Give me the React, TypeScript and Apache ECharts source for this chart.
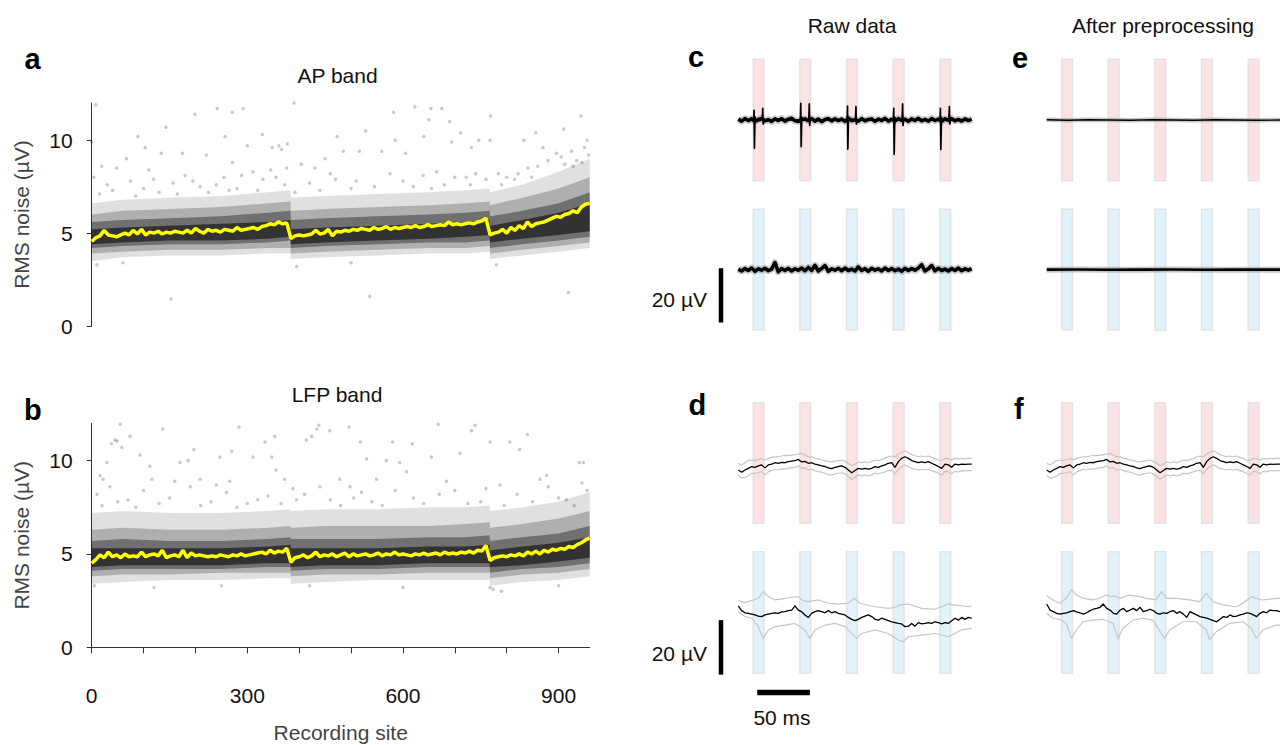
import React, { useEffect, useRef } from "react";
import * as echarts from "echarts";

const FONT = "'Liberation Sans', Arial, Helvetica, sans-serif";

// ---------- Panels a / b : RMS noise per recording site ----------
const SITE_MAX = 960;
const MEDIAN_STEP = 8; // sites between successive median samples
const X_TICK_SITES = [0, 100, 200, 300, 400, 500, 600, 700, 800, 900];
const X_LABEL_SITES = [0, 300, 600, 900];
const Y_TICKS = [0, 5, 10];

// yellow median line, AP band (sites 0, 8, ... 960)
const A_MEDIAN = [
  4.55, 4.75, 4.85, 5.15, 4.9, 4.85, 4.8, 4.9, 5.0, 4.9, 5.15, 4.95, 5.2, 4.9, 5.05, 5.0,
  5.1, 4.95, 5.05, 5.0, 5.1, 5.05, 5.0, 5.15, 5.0, 5.25, 5.1, 5.0, 5.2, 5.1, 5.15, 5.05,
  5.2, 5.15, 5.1, 5.3, 5.15, 5.2, 5.25, 5.3, 5.2, 5.35, 5.4, 5.5, 5.45, 5.6, 5.5, 5.55,
  4.7, 4.85, 4.9, 4.85, 4.9, 4.95, 5.15, 4.95, 5.0, 5.2, 4.85, 5.1, 5.05, 5.15, 5.1, 5.2,
  5.15, 5.25, 5.2, 5.15, 5.3, 5.2, 5.25, 5.35, 5.2, 5.3, 5.25, 5.3, 5.35, 5.3, 5.4, 5.3,
  5.35, 5.45, 5.35, 5.4, 5.45, 5.4, 5.6, 5.45, 5.5, 5.45, 5.5, 5.55, 5.5, 5.6, 5.65, 5.8,
  4.9, 5.0, 5.05, 5.2, 5.0, 5.3, 5.15, 5.4, 5.25, 5.6, 5.35, 5.5, 5.55, 5.6, 5.7, 5.8,
  5.9, 5.85, 6.0, 6.05, 6.2, 6.1, 6.4, 6.55, 6.6,
];
// yellow median line, LFP band
const B_MEDIAN = [
  4.5, 4.7, 4.95, 4.8, 5.1, 4.85, 4.95, 4.8, 5.0, 4.85, 4.9, 4.85, 5.1, 4.85, 4.95, 5.0,
  4.9, 5.2, 4.8, 4.9, 4.95, 4.85, 5.2, 4.8, 5.05, 4.9, 4.95, 4.9, 4.85, 4.9, 4.85, 4.95,
  4.9, 4.85, 4.95, 4.9, 5.0, 4.9, 4.95, 5.0, 5.05, 5.1, 5.0, 5.2, 5.05, 5.15, 5.1, 5.3,
  4.55, 4.8, 4.85, 4.95, 4.8, 4.9, 5.1, 4.85, 4.95, 4.9, 5.0, 4.85, 4.95, 5.05, 4.85, 5.0,
  4.9, 4.95, 5.0, 4.9, 4.95, 5.05, 4.9, 5.0, 4.95, 5.1, 4.95, 5.0, 4.95, 4.9, 5.0, 4.95,
  5.05, 4.95, 5.0, 5.05, 4.95, 5.1, 5.0, 5.05, 5.0, 5.1, 5.05, 5.15, 5.05, 5.2, 5.15, 5.45,
  4.65, 4.8, 4.85, 4.9, 4.85, 4.95, 4.9, 5.0, 4.9, 5.1, 5.0, 5.15, 5.0, 5.2, 5.1, 5.25,
  5.2, 5.3, 5.25, 5.4, 5.35, 5.5, 5.6, 5.75, 5.85,
];

// envelope of the dense point cloud (sites at which the envelopes are read)
const BAND_SITES = [0, 60, 150, 250, 340, 383, 384, 450, 550, 650, 720, 767, 768, 830, 900, 960];
const A_OUT_LO = [3.5, 3.7, 3.8, 3.8, 3.9, 3.9, 3.6, 3.7, 3.8, 3.9, 3.9, 4.0, 3.6, 3.8, 4.0, 4.2];
const A_OUT_HI = [6.6, 6.8, 6.9, 7.0, 7.2, 7.3, 6.9, 7.0, 7.1, 7.2, 7.3, 7.4, 7.2, 7.6, 8.3, 9.0];
const A_MID_LO = [3.9, 4.0, 4.1, 4.1, 4.2, 4.2, 3.9, 4.0, 4.1, 4.2, 4.2, 4.3, 3.9, 4.1, 4.3, 4.5];
const A_MID_HI = [6.0, 6.2, 6.3, 6.4, 6.6, 6.7, 6.2, 6.3, 6.4, 6.5, 6.6, 6.7, 6.5, 6.9, 7.4, 8.0];
const A_IN_LO = [4.2, 4.3, 4.4, 4.4, 4.5, 4.6, 4.2, 4.3, 4.4, 4.5, 4.5, 4.6, 4.2, 4.4, 4.6, 4.8];
const A_IN_HI = [5.6, 5.7, 5.8, 5.9, 6.1, 6.2, 5.7, 5.8, 5.9, 6.0, 6.1, 6.2, 5.9, 6.2, 6.6, 7.2];
const A_CORE_LO = [4.4, 4.5, 4.6, 4.6, 4.7, 4.8, 4.4, 4.5, 4.6, 4.7, 4.8, 4.9, 4.5, 4.7, 4.9, 5.1];
const A_CORE_HI = [5.2, 5.3, 5.4, 5.5, 5.6, 5.7, 5.2, 5.3, 5.4, 5.5, 5.6, 5.7, 5.4, 5.7, 6.1, 6.6];

const B_OUT_LO = [3.4, 3.5, 3.6, 3.6, 3.7, 3.7, 3.4, 3.5, 3.6, 3.6, 3.6, 3.6, 3.3, 3.5, 3.6, 3.8];
const B_OUT_HI = [7.2, 7.3, 7.2, 7.2, 7.3, 7.4, 7.3, 7.4, 7.4, 7.5, 7.5, 7.6, 7.3, 7.5, 7.8, 8.3];
const B_MID_LO = [3.8, 3.9, 3.9, 4.0, 4.0, 4.0, 3.8, 3.9, 3.9, 4.0, 4.0, 4.0, 3.7, 3.9, 4.0, 4.2];
const B_MID_HI = [6.3, 6.4, 6.3, 6.3, 6.4, 6.5, 6.4, 6.5, 6.5, 6.5, 6.6, 6.7, 6.4, 6.6, 6.9, 7.3];
const B_IN_LO = [4.1, 4.2, 4.2, 4.2, 4.3, 4.3, 4.1, 4.2, 4.2, 4.3, 4.3, 4.3, 4.0, 4.2, 4.3, 4.5];
const B_IN_HI = [5.7, 5.8, 5.7, 5.7, 5.8, 5.9, 5.8, 5.8, 5.8, 5.9, 5.9, 6.0, 5.7, 5.9, 6.1, 6.5];
const B_CORE_LO = [4.3, 4.4, 4.4, 4.4, 4.5, 4.5, 4.3, 4.4, 4.4, 4.5, 4.5, 4.5, 4.3, 4.4, 4.6, 4.8];
const B_CORE_HI = [5.3, 5.3, 5.3, 5.3, 5.4, 5.5, 5.3, 5.3, 5.3, 5.4, 5.4, 5.5, 5.2, 5.4, 5.6, 5.9];

// individual scattered sites outside the dense cloud [site, µV]
const A_OUTLIERS = [
  [8, 11.9], [0, 9.9], [4, 8.0], [19, 8.6], [48, 8.5], [67, 9.0], [89, 10.2], [103, 9.6], [143, 10.7],
  [134, 9.3], [175, 9.3], [199, 11.4], [221, 9.2], [242, 11.7], [257, 10.2], [271, 11.5], [271, 8.8],
  [292, 11.7], [300, 9.7], [329, 10.3], [348, 9.6], [361, 9.7], [377, 9.8], [390, 12.0], [153, 1.45],
  [100, 7.4], [209, 7.5], [289, 8.1], [311, 8.3], [119, 7.9], [157, 7.7], [582, 11.5], [623, 11.8],
  [654, 11.7], [675, 11.7], [650, 11.1], [690, 11.0], [769, 11.3], [943, 11.3], [910, 10.6], [528, 10.5],
  [473, 10.2], [585, 10.0], [640, 10.2], [711, 10.4], [746, 10.0], [768, 10.0], [833, 10.0], [856, 10.4],
  [955, 10.0], [870, 9.6], [896, 9.3], [366, 9.5], [376, 8.5], [485, 9.4], [450, 9.0], [516, 9.4],
  [559, 9.4], [605, 9.3], [694, 9.9], [732, 9.6], [784, 8.2], [822, 8.2], [841, 8.5], [912, 8.7],
  [928, 8.6], [536, 1.6], [919, 1.8], [430, 8.5], [404, 8.7], [639, 8.1], [665, 8.3], [722, 8.0],
  [30, 7.6], [75, 7.8], [130, 7.2], [180, 8.1], [240, 7.6], [265, 7.3], [330, 7.9], [355, 8.0],
  [420, 7.7], [470, 7.9], [500, 7.4], [600, 7.8], [680, 7.6], [740, 8.2], [800, 8.0], [860, 8.6],
  [950, 9.6], [935, 8.9], [10, 3.3], [60, 3.4], [395, 3.2], [780, 3.3], [500, 3.4],
  [15, 7.1], [40, 7.3], [85, 7.0], [110, 8.4], [165, 7.1], [195, 7.8], [225, 7.2], [255, 8.0],
  [280, 7.4], [320, 7.3], [345, 8.4], [372, 7.6], [392, 7.2], [440, 7.3], [460, 8.2], [510, 7.8],
  [545, 7.5], [575, 8.2], [620, 7.5], [655, 7.4], [700, 8.0], [730, 7.6], [760, 7.9], [790, 7.6],
  [815, 7.9], [848, 8.0], [880, 8.9], [905, 9.1], [925, 9.4], [945, 8.8], [958, 9.2],
];
const B_OUTLIERS = [
  [55, 11.95], [38, 10.9], [45, 11.1], [49, 11.05], [58, 10.7], [29, 9.9], [16, 9.2], [22, 9.0], [74, 11.3],
  [137, 11.7], [93, 10.3], [112, 9.7], [116, 9.0], [197, 10.6], [186, 10.0], [170, 9.9], [209, 9.0],
  [247, 10.2], [270, 10.5], [284, 11.8], [266, 8.9], [311, 10.2], [334, 11.0], [353, 11.3], [347, 10.2],
  [355, 9.5], [372, 9.0], [388, 8.5], [424, 11.3], [434, 11.7], [438, 11.9], [459, 11.6], [496, 11.8],
  [414, 11.1], [518, 11.0], [580, 11.0], [618, 10.9], [668, 11.95], [739, 11.9], [732, 11.6], [710, 10.4],
  [806, 11.0], [768, 11.0], [825, 10.6], [840, 11.4], [877, 9.2], [940, 9.9], [948, 9.9], [594, 9.9],
  [607, 9.4], [568, 10.0], [549, 9.0], [530, 10.1], [478, 9.0], [498, 8.6], [655, 10.2], [684, 8.9],
  [787, 8.7], [864, 9.0], [774, 3.1], [768, 3.2], [10, 8.2], [35, 8.6], [70, 7.9], [100, 8.4], [150, 8.0],
  [190, 8.6], [230, 7.8], [260, 8.3], [300, 7.7], [340, 8.1], [410, 8.2], [460, 7.9], [520, 8.3],
  [560, 7.6], [620, 8.0], [700, 8.4], [750, 7.8], [820, 8.2], [900, 8.0], [955, 8.4], [930, 7.6],
  [5, 3.3], [120, 3.2], [250, 3.3], [420, 3.3], [600, 3.2], [790, 3.0], [900, 3.3],
  [20, 7.6], [50, 7.8], [85, 7.5], [130, 7.7], [160, 8.9], [210, 7.6], [240, 8.7], [280, 7.5],
  [320, 7.9], [365, 7.7], [395, 7.9], [440, 8.6], [480, 7.6], [505, 8.0], [540, 7.8], [585, 8.4],
  [640, 7.7], [670, 8.2], [725, 7.7], [760, 8.5], [795, 7.6], [850, 7.8], [880, 8.6], [915, 7.9], [945, 8.8],
];

// ---------- Panels c-f : example traces (ms, µV) ----------
const TRACE_MS = 221.6;
const BAR_STARTS_MS = [14.2, 58.5, 102.8, 147.1, 191.4];
const BAR_WIDTH_MS = 10.2;

// c top: AP band raw, spiking channel (noise samples + spike waveforms)
const C_TOP_NOISE = [
  0.3, -0.4, 0.5, -0.2, 0.4, -0.5, 0.2, 0.6, -0.3, 0.1,
  -0.5, 0.4, -0.2, 0.5, -0.4, 0.3, 0.6, -0.3, -0.5, 0.2,
  0.4, -0.2, 0.5, -0.4, 0.3, -0.6, 0.2, 0.5, -0.3, 0.4,
  -0.2, 0.3, -0.5, 0.6, -0.2, 0.1, -0.4, 0.5, -0.3, 0.2,
  0.4, -0.5, 0.3, -0.2, 0.6, -0.4, 0.2, -0.3, 0.5, -0.1,
  0.3, -0.5, 0.4, -0.2, 0.6, -0.3, 0.2, -0.4, 0.5, -0.2,
  0.3, -0.5, 0.4, -0.1, 0.5, -0.3, 0.2, -0.4, 0.4, -0.2, 0.3,
];
const C_TOP_SPIKES = [
  [0, 0], [14.6, 0], [15.0, 3.5], [15.3, -10.4], [15.9, 1.2], [16.4, -0.5], [22.7, 0], [23.2, 4.3], [23.6, -1.5], [24.1, 0],
  [58.9, 0], [59.3, 6.1], [59.7, -9.8], [60.3, 1.0], [60.8, 0], [66.9, 0], [67.4, 5.9], [67.8, -2.0], [68.3, 0],
  [103.3, 0], [103.7, 5.1], [104.0, -10.7], [104.6, 1.0], [105.1, 0], [111.2, 0], [111.7, 4.9], [112.1, -1.5], [112.6, 0],
  [147.2, 0], [147.6, 4.3], [148.0, -12.6], [148.6, 1.0], [149.1, 0], [155.5, 0], [156.0, 5.9], [156.4, -2.0], [156.9, 0],
  [191.5, 0], [191.9, 4.3], [192.3, -10.8], [192.9, 1.0], [193.4, 0], [199.9, 0], [200.4, 4.9], [200.8, -1.5], [201.3, 0],
  [221.6, 0],
];
// c bottom: AP band raw, quiet channel
const C_BOT_NOISE = [
  0.2, -0.5, 0.4, -0.3, 0.6, -0.6, 0.3, -0.2, 0.5, -0.4,
  0.2, 2.6, -0.8, 0.4, -0.3, 0.5, -0.5, 0.3, -0.2, 0.6,
  -0.4, 0.8, -0.3, 1.6, -0.5, 0.4, 1.5, -0.6, 0.3, -0.2,
  0.5, -0.4, 0.6, -0.3, 0.2, -0.5, 1.0, -0.3, 0.4, -0.6,
  0.5, -0.2, 0.3, -0.5, 0.6, -0.3, 0.4, -0.4, 0.2, -0.6,
  0.5, -0.3, 0.4, -0.2, 0.6, 1.8, -0.5, 0.3, 1.5, -0.4,
  0.5, -0.3, 0.2, -0.5, 0.4, -0.3, 0.6, -0.4, 0.3, -0.2, 0.4,
];
// e: AP band after preprocessing (flat)
const E_TOP_TRACE = [[0, 0.1], [20, -0.1], [40, 0.1], [60, 0], [80, -0.1], [100, 0.1], [120, 0], [140, -0.1], [160, 0.1], [180, 0], [200, -0.1], [221.6, 0]];
const E_BOT_TRACE = [[0, 0], [30, 0.05], [60, -0.05], [90, 0], [120, 0.05], [150, -0.05], [180, 0], [221.6, 0]];

// d top: LFP raw, mean and envelope
const D_TOP_MEAN = [
  -2.6, -3.4, -2.6, -2.0, -1.3, -1.6, -1.1, -0.7, -1.8, -0.7,
  -0.4, 0.1, -0.1, 0.2, 0.1, 0.5, 0.7, 0.9, 1.3, 0.4,
  0.6, -0.1, 0.1, -0.4, -0.7, -1.1, -1.3, -1.8, -2.1, -1.6,
  -1.3, -1.1, -1.6, -2.6, -3.6, -2.8, -2.0, -2.3, -2.0, -2.3,
  -2.0, -1.3, -1.6, -1.1, -0.7, -0.1, 0.1, -1.6, 0.5, 1.7,
  2.3, 1.7, 0.9, 0.5, 0.1, 0.4, 0.1, 0.5, -0.1, -0.7,
  -1.3, -2.0, -0.4, -0.7, -1.6, -0.4, -0.7, -0.4, -0.5, -0.4, -0.4,
];
const D_TOP_UP = [
  -0.1, -0.7, 0.1, 0.9, 1.1, 0.9, 1.3, 1.6, 1.1, 1.7,
  2.1, 2.3, 2.3, 2.6, 2.8, 2.7, 2.9, 3.1, 3.3, 3.6,
  2.9, 2.3, 2.3, 1.8, 1.5, 1.1, 0.9, 0.5, 0.4, 0.7,
  0.9, 1.1, 0.6, -0.1, -0.9, -0.4, 0.4, 0.1, 0.4, 0.1,
  0.6, 1.1, 0.9, 1.3, 1.7, 2.3, 2.6, 2.3, 3.3, 4.0,
  4.5, 3.8, 3.1, 2.7, 2.3, 2.6, 2.3, 2.6, 2.1, 1.6,
  1.1, 0.9, 1.7, 1.6, 1.1, 1.7, 1.5, 1.7, 1.6, 1.7, 1.7,
];
const D_TOP_LO = [
  -4.4, -5.6, -5.3, -4.8, -3.8, -3.8, -3.6, -3.2, -4.4, -3.3,
  -2.8, -2.3, -2.6, -2.2, -2.3, -2.0, -1.7, -1.6, -1.1, -2.0,
  -1.8, -2.6, -2.3, -2.8, -3.2, -3.4, -3.8, -4.3, -4.5, -4.0,
  -3.8, -3.6, -4.0, -5.0, -6.0, -5.3, -4.4, -4.8, -4.4, -4.8,
  -4.4, -3.8, -4.0, -3.6, -3.3, -2.8, -2.6, -4.0, -2.3, -1.3,
  -0.7, -1.3, -2.0, -2.3, -2.6, -2.3, -2.6, -2.3, -2.8, -3.3,
  -3.8, -4.5, -3.1, -3.2, -4.0, -3.1, -3.3, -2.8, -2.9, -2.8, -2.8,
];
// d bottom: LFP raw, channel with evoked artefacts
const D_BOT_MEAN = [
  2.4, 0.7, -0.1, -0.3, -0.6, -0.9, -1.3, -1.5, -0.9, -0.6,
  -0.3, -0.1, -0.3, 0.2, 0.3, 0.7, 0.9, 2.4, 0.9, 0.3,
  -0.9, -1.8, -0.3, 0.3, 0.7, 0.3, -0.1, 0.7, -0.1, 0.3,
  -0.3, -0.6, -0.9, -1.8, -2.5, -3.0, -2.5, -1.8, -1.3, -0.9,
  -1.5, -2.5, -2.8, -2.1, -2.5, -3.0, -3.4, -3.7, -4.0, -4.2,
  -5.2, -5.0, -4.0, -5.0, -3.7, -4.2, -4.0, -3.7, -4.0, -3.4,
  -3.7, -4.2, -3.7, -4.0, -3.0, -2.1, -2.8, -1.8, -2.5, -1.8, -2.1,
];
const D_BOT_UP = [
  [0, 4.4], [6.3, 3.6], [12.7, 4.4], [19, 5.2], [23.7, 7.7], [28.5, 5.8], [34.8, 4.6], [44.3, 5.2], [50.6, 5.6],
  [57, 5.8], [60.1, 4.6], [66.5, 4.0], [76, 4.6], [85.4, 3.4], [94.9, 3.1], [104.4, 3.4], [110.1, 5.2],
  [115.5, 3.4], [129.7, 2.1], [142.4, 1.5], [148.7, 1.9], [153.5, 2.8], [161.4, 3.1], [174.1, 1.5],
  [186.7, 1.2], [194.6, 2.4], [199.4, 3.1], [205.7, 2.8], [218.4, 2.1], [221.6, 2.4],
];
const D_BOT_LO = [
  [0, 0.3], [6.3, -1.5], [12.7, -2.1], [19, -5.2], [23.7, -9.5], [28.5, -6.4], [34.8, -5.2], [44.3, -4.6],
  [53.8, -4.0], [63.3, -6.4], [68, -9.5], [72.8, -6.4], [82.3, -4.6], [91.8, -4.0], [101.3, -5.2],
  [109.2, -8.3], [112.3, -9.5], [117.1, -7.7], [129.7, -6.4], [142.4, -7.7], [151.9, -10.1], [156.6, -10.7],
  [161.4, -8.9], [174.1, -8.3], [186.7, -7.7], [199.4, -8.9], [202.5, -8.3], [212, -6.4], [221.6, -5.8],
];
// f top: LFP after preprocessing (unchanged from d top)
const F_TOP_MEAN = D_TOP_MEAN;
const F_TOP_UP = D_TOP_UP;
const F_TOP_LO = D_TOP_LO;
// f bottom: LFP after preprocessing
const F_BOT_MEAN = [
  3.1, 0.9, 0.3, -0.3, -0.6, -0.3, -0.1, 0.3, 0.7, 0.2,
  -0.1, -0.6, -0.1, 0.7, 1.2, 1.5, 1.9, 3.1, 1.5, 0.9,
  -0.3, -0.6, 0.9, 1.5, 0.3, 0.9, 1.5, 0.7, 1.9, 0.3,
  0.7, 1.2, 0.7, -0.3, -0.6, -0.1, -0.3, 0.3, 0.7, -0.3,
  0.3, -0.6, -1.8, 0.3, -0.3, -0.9, -1.5, -1.8, -2.1, -2.5,
  -3.0, -3.4, -2.5, -1.5, -1.8, -0.9, -1.5, -1.3, -0.9, -0.6,
  -0.1, -0.3, -0.9, -1.5, -0.3, 0.3, -0.1, 0.9, 0.7, 0.7, 0.3,
];
const F_BOT_UP = [
  [0, 6.1], [6, 4.6], [12.3, 3.4], [18.7, 5.2], [23.4, 8.5], [28.2, 6.4], [34.5, 5.2], [44, 4.6], [50.3, 5.2],
  [56.6, 6.4], [61.4, 5.8], [64.6, 6.1], [69.3, 5.2], [78.8, 6.4], [88.3, 5.8], [94.6, 5.2], [104.1, 4.6],
  [108.9, 7.7], [113.6, 5.2], [123.1, 5.2], [135.8, 4.6], [145.3, 4.0], [151.6, 7.0], [157.9, 4.0],
  [167.4, 2.8], [180.1, 2.1], [186.4, 3.4], [194.3, 5.8], [199.1, 5.2], [205.4, 4.6], [218, 5.2], [221.6, 5.2],
];
const F_BOT_LO = [
  [0, -0.3], [6, -2.1], [12.3, -2.5], [18.7, -4.0], [23.4, -9.5], [28.2, -6.4], [34.5, -3.4], [44, -2.8],
  [53.5, -2.5], [63, -4.0], [67.7, -9.5], [72.5, -5.8], [82, -2.8], [91.5, -2.1], [101, -2.8], [108.9, -7.7],
  [112, -9.5], [116.8, -6.4], [129.4, -3.4], [142.1, -3.4], [151.6, -6.4], [154.7, -9.9], [161.1, -7.0],
  [173.7, -4.0], [186.4, -3.4], [194.3, -5.8], [199.1, -9.5], [205.4, -6.4], [218, -4.6], [221.6, -4.6],
];

// scale bars (in trace units)
const SCALE_UV = 20;
const SCALE_MS = 50;

const samples = (vals: number[]) => {
  const dt = TRACE_MS / (vals.length - 1);
  return vals.map((v, i) => [i * dt, v]);
};
const medianPairs = (vals: number[]) => vals.map((v, i) => [Math.min(i * MEDIAN_STEP, SITE_MAX), v]);

const PINK = "rgba(252,226,226,1)";
const BLUE = "rgba(224,243,251,1)";

export default function App() {
  const ref = useRef<HTMLDivElement>(null);
  useEffect(() => {
    if (!ref.current) return;
    const chart = echarts.init(ref.current, undefined, { renderer: "svg" });

    const grids = [
      { left: 91.7, top: 103, width: 498, height: 223 }, // 0 a
      { left: 91.7, top: 423.3, width: 498, height: 224 }, // 1 b
      { left: 738.3, top: 59.3, width: 233.4, height: 121.4 }, // 2 c top
      { left: 738.3, top: 209.3, width: 233.4, height: 120.7 }, // 3 c bottom
      { left: 738.3, top: 402.7, width: 233.4, height: 120.6 }, // 4 d top
      { left: 738.3, top: 551.7, width: 233.4, height: 121.6 }, // 5 d bottom
      { left: 1046.7, top: 59.3, width: 233.4, height: 121.4 }, // 6 e top
      { left: 1046.7, top: 209.3, width: 233.4, height: 120.7 }, // 7 e bottom
      { left: 1046.7, top: 402.7, width: 233.4, height: 120.6 }, // 8 f top
      { left: 1046.7, top: 551.7, width: 233.4, height: 121.6 }, // 9 f bottom
      { left: 718.5, top: 209.3, width: 5, height: 120.7 }, // 10 µV scale (c)
      { left: 718.5, top: 551.7, width: 5, height: 121.6 }, // 11 µV scale (d)
    ].map((g) => ({ ...g, containLabel: false, show: false }));

    const axisColor = "#333";
    const yScatter = (gi: number) => ({
      type: "value",
      gridIndex: gi,
      min: 0,
      max: 12,
      offset: 7,
      splitLine: { show: false },
      axisLine: { show: true, lineStyle: { color: axisColor, width: 1 } },
      axisTick: { show: true, length: 5, customValues: Y_TICKS, lineStyle: { color: axisColor } },
      axisLabel: { customValues: Y_TICKS, fontSize: 21, color: "#111", fontFamily: FONT, margin: 12 },
      name: "RMS noise (µV)",
      nameLocation: "middle",
      nameGap: 53,
      nameTextStyle: { fontSize: 21, color: "#444", fontFamily: FONT },
    });
    const xHidden = (gi: number, min: number, max: number) => ({
      type: "value", gridIndex: gi, min, max, show: false,
    });
    const yHidden = (gi: number) => ({ type: "value", gridIndex: gi, min: -22.3, max: 22.3, show: false });

    const xAxes: any[] = [
      xHidden(0, 0, SITE_MAX),
      {
        type: "value",
        gridIndex: 1,
        min: 0,
        max: SITE_MAX,
        offset: 24.4,
        splitLine: { show: false },
        axisLine: { show: true, lineStyle: { color: axisColor, width: 1 } },
        axisTick: { show: true, length: 6, customValues: X_TICK_SITES, lineStyle: { color: axisColor } },
        axisLabel: { customValues: X_LABEL_SITES, fontSize: 21, color: "#111", fontFamily: FONT, margin: 13 },
        name: "Recording site",
        nameLocation: "middle",
        nameGap: 50,
        nameTextStyle: { fontSize: 21, color: "#444", fontFamily: FONT },
      },
    ];
    const yAxes: any[] = [yScatter(0), yScatter(1)];
    for (let gi = 2; gi < 10; gi++) {
      xAxes.push(xHidden(gi, 0, TRACE_MS));
      yAxes.push(yHidden(gi));
    }
    for (let gi = 10; gi < 12; gi++) {
      xAxes.push(xHidden(gi, 0, 1));
      yAxes.push(yHidden(gi));
    }

    const band = (gi: number, lo: number[], hi: number[], alpha: number) => ({
      type: "custom",
      coordinateSystem: "cartesian2d",
      xAxisIndex: gi,
      yAxisIndex: gi,
      silent: true,
      z: 1,
      data: [[0, 5]],
      renderItem: (_p: any, api: any) => {
        const top = BAND_SITES.map((s, i) => api.coord([s, hi[i]]));
        const bot = BAND_SITES.map((s, i) => api.coord([s, lo[i]])).reverse();
        return {
          type: "polygon",
          shape: { points: top.concat(bot), smooth: 0 },
          style: { fill: `rgba(0,0,0,${alpha})`, stroke: "none" },
        };
      },
    });
    const scatterPanel = (gi: number, bands: number[][][], outliers: number[][], median: number[]) => [
      band(gi, bands[0][0], bands[0][1], 0.12),
      band(gi, bands[1][0], bands[1][1], 0.22),
      band(gi, bands[2][0], bands[2][1], 0.36),
      band(gi, bands[3][0], bands[3][1], 0.55),
      {
        type: "scatter",
        xAxisIndex: gi,
        yAxisIndex: gi,
        data: outliers,
        symbolSize: 3.5,
        silent: true,
        z: 2,
        itemStyle: { color: "rgba(40,40,40,0.32)" },
      },
      {
        type: "line",
        xAxisIndex: gi,
        yAxisIndex: gi,
        data: medianPairs(median),
        showSymbol: false,
        symbol: "none",
        silent: true,
        z: 3,
        lineStyle: { color: "#ffff00", width: 3.5 },
      },
    ];

    const barsArea = (fill: string) => ({
      silent: true,
      label: { show: false },
      itemStyle: { color: fill, borderColor: "#e3e3e3", borderWidth: 1.5 },
      data: BAR_STARTS_MS.map((s) => [{ xAxis: s }, { xAxis: s + BAR_WIDTH_MS }]),
    });
    const tl = (gi: number, data: any[], color: string, width: number, z: number, extra: any = {}) => ({
      type: "line",
      xAxisIndex: gi,
      yAxisIndex: gi,
      data,
      showSymbol: false,
      symbol: "none",
      silent: true,
      z,
      lineStyle: { color, width, join: "round" },
      ...extra,
    });

    const series: any[] = [
      ...scatterPanel(0, [[A_OUT_LO, A_OUT_HI], [A_MID_LO, A_MID_HI], [A_IN_LO, A_IN_HI], [A_CORE_LO, A_CORE_HI]], A_OUTLIERS, A_MEDIAN),
      ...scatterPanel(1, [[B_OUT_LO, B_OUT_HI], [B_MID_LO, B_MID_HI], [B_IN_LO, B_IN_HI], [B_CORE_LO, B_CORE_HI]], B_OUTLIERS, B_MEDIAN),
      // c top
      tl(2, samples(C_TOP_NOISE), "rgba(140,140,140,0.45)", 7, 2, { markArea: barsArea(PINK) }),
      tl(2, samples(C_TOP_NOISE), "#000", 3.6, 3),
      tl(2, C_TOP_SPIKES, "#000", 1.7, 4),
      // c bottom
      tl(3, samples(C_BOT_NOISE), "rgba(140,140,140,0.45)", 7, 2, { markArea: barsArea(BLUE) }),
      tl(3, samples(C_BOT_NOISE), "#000", 3.6, 3),
      // d top
      tl(4, samples(D_TOP_UP), "#c6c6c6", 1.2, 2, { markArea: barsArea(PINK) }),
      tl(4, samples(D_TOP_LO), "#c6c6c6", 1.2, 2),
      tl(4, samples(D_TOP_MEAN), "#000", 1.3, 3),
      // d bottom
      tl(5, D_BOT_UP, "#c6c6c6", 1.2, 2, { markArea: barsArea(BLUE) }),
      tl(5, D_BOT_LO, "#c6c6c6", 1.2, 2),
      tl(5, samples(D_BOT_MEAN), "#000", 1.3, 3),
      // e top
      tl(6, E_TOP_TRACE, "rgba(160,160,160,0.6)", 4.5, 2, { markArea: barsArea(PINK) }),
      tl(6, E_TOP_TRACE, "#000", 1.3, 3),
      // e bottom
      tl(7, E_BOT_TRACE, "rgba(160,160,160,0.6)", 6, 2, { markArea: barsArea(BLUE) }),
      tl(7, E_BOT_TRACE, "#000", 2.6, 3),
      // f top
      tl(8, samples(F_TOP_UP), "#c6c6c6", 1.2, 2, { markArea: barsArea(PINK) }),
      tl(8, samples(F_TOP_LO), "#c6c6c6", 1.2, 2),
      tl(8, samples(F_TOP_MEAN), "#000", 1.3, 3),
      // f bottom
      tl(9, F_BOT_UP, "#c6c6c6", 1.2, 2, { markArea: barsArea(BLUE) }),
      tl(9, F_BOT_LO, "#c6c6c6", 1.2, 2),
      tl(9, samples(F_BOT_MEAN), "#000", 1.3, 3),
      // scale bars
      tl(10, [[0.5, 0.5], [0.5, 0.5 - SCALE_UV]], "#000", 4.5, 5, { clip: false, lineStyle: { color: "#000", width: 4.5, cap: "butt" } }),
      tl(11, [[0.5, -2.8], [0.5, -2.8 - SCALE_UV]], "#000", 4.5, 5, { clip: false, lineStyle: { color: "#000", width: 4.5, cap: "butt" } }),
      tl(5, [[18, -29.3], [18 + SCALE_MS, -29.3]], "#000", 5.5, 5, { clip: false, lineStyle: { color: "#000", width: 5.5, cap: "butt" } }),
    ];

    const txt = (text: string, x: number, y: number, extra: any = {}) => ({
      type: "text",
      x,
      y,
      silent: true,
      style: {
        text,
        fontFamily: FONT,
        fontSize: 21,
        fill: "#111",
        align: "center",
        verticalAlign: "middle",
        ...extra,
      },
    });
    const letter = (t: string, x: number, y: number) => txt(t, x, y, { fontSize: 29, fontWeight: "bold", align: "left", fill: "#000" });

    chart.setOption({
      animation: false,
      backgroundColor: "#ffffff",
      grid: grids,
      xAxis: xAxes,
      yAxis: yAxes,
      series,
      graphic: [
        letter("a", 24.5, 59),
        letter("b", 24, 410),
        letter("c", 688, 57),
        letter("d", 688.5, 405),
        letter("e", 1012, 58),
        letter("f", 1014, 408.5),
        txt("AP band", 337.5, 75),
        txt("LFP band", 337, 394),
        txt("Raw data", 852, 25),
        txt("After preprocessing", 1163, 25),
        txt("20 µV", 707, 299, { align: "right" }),
        txt("20 µV", 707, 653, { align: "right" }),
        txt("50 ms", 782, 717),
      ],
    });
    return () => chart.dispose();
  }, []);

  return (
    <div
      ref={ref}
      style={{ position: "fixed", left: 0, top: 0, width: 1280, height: 745, background: "#fff" }}
    />
  );
}
